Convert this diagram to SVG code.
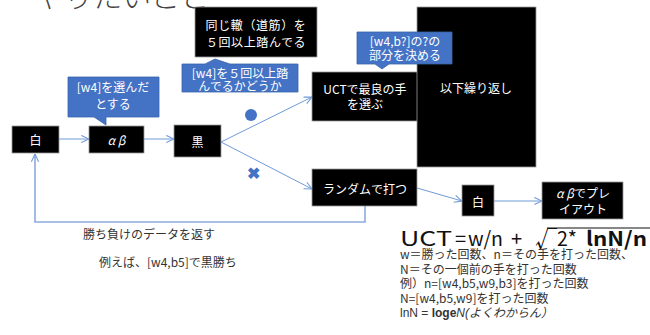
<svg xmlns="http://www.w3.org/2000/svg" width="650" height="335" viewBox="0 0 650 335">
<defs>
<style>
text{font-family:"Noto Sans CJK JP","Liberation Sans",sans-serif;}
.box{fill:#000;stroke:#999;stroke-width:0.8;}
.bt{fill:#fff;font-size:12px;text-anchor:middle;dominant-baseline:central;}
.call{fill:#4472c4;stroke:#3a64ad;stroke-width:0.8;}
.ct{fill:#fff;font-size:12px;text-anchor:middle;dominant-baseline:central;}
.con{fill:none;stroke:#6f9ad8;stroke-width:1;}
.loop{fill:none;stroke:#8eaadb;stroke-width:1.6;}
.note{fill:#333;font-size:12px;}
.fx{fill:#111;font-size:20px;}
</style>
<marker id="ah" viewBox="0 0 10 10" refX="9.5" refY="5" markerWidth="9" markerHeight="9" markerUnits="userSpaceOnUse" orient="auto">
<path d="M1,1 L9.5,5 L1,9" fill="none" stroke="#6f9ad8" stroke-width="1.2"/>
</marker>
</defs>
<rect width="650" height="335" fill="#fff"/>

<text x="35" y="8" font-size="29" fill="#444" font-weight="300">やりたいこと</text>

<g id="connectors">
<line class="con" x1="59" y1="139" x2="89" y2="139" marker-end="url(#ah)"/>
<line class="con" x1="144" y1="139" x2="174" y2="139" marker-end="url(#ah)"/>
<line class="con" x1="221" y1="142" x2="312" y2="97" marker-end="url(#ah)"/>
<line class="con" x1="221" y1="142" x2="312" y2="189" marker-end="url(#ah)"/>
<line class="con" x1="417" y1="188" x2="462" y2="201" marker-end="url(#ah)"/>
<line class="con" x1="494" y1="201" x2="542" y2="201" marker-end="url(#ah)"/>
<polyline class="loop" points="365,206 365,222 35,222 35,154" marker-end="url(#ah)"/>
</g>

<g id="n-same">
<rect class="box" x="195" y="7" width="122" height="50"/>
<text class="bt" x="256" y="24" letter-spacing="0.6">同じ轍（道筋）を</text>
<text class="bt" x="256" y="41" letter-spacing="0.6">５回以上踏んでる</text>
</g>

<g id="c-check">
<path class="call" d="M182,64 H205 L215,59 L230,64 H298 V92 H182 Z"/>
<text class="ct" x="240" y="72">[w4]を５回以上踏</text>
<text class="ct" x="240" y="85">んでるかどうか</text>
</g>

<g id="c-select">
<path class="call" d="M68,77 H159 V117 H106 V125 L94,117 H68 Z"/>
<text class="ct" x="113" y="86">[w4]を選んだ</text>
<text class="ct" x="113" y="103">とする</text>
</g>

<g id="n-white1">
<rect class="box" x="12" y="126" width="47" height="27"/>
<text class="bt" x="35.5" y="139.5">白</text>
</g>

<g id="n-ab">
<rect class="box" x="89" y="126" width="55" height="27"/>
<text class="bt" x="116.5" y="139.5" font-style="italic">α β</text>
</g>

<g id="n-black">
<rect class="box" x="174" y="125" width="47" height="32"/>
<text class="bt" x="197.5" y="141">黒</text>
</g>

<g id="marks">
<circle cx="251" cy="115" r="6" fill="#4472c4"/>
<text x="253" y="172" font-size="16" font-weight="bold" fill="#4472c4" text-anchor="middle" dominant-baseline="central" font-family="'DejaVu Sans',sans-serif">✖</text>
</g>

<g id="n-uct">
<rect class="box" x="312" y="72" width="110" height="49"/>
<text class="bt" x="365" y="88">UCTで最良の手</text>
<text class="bt" x="365" y="103">を選ぶ</text>
</g>

<g id="n-repeat">
<rect class="box" x="417" y="7" width="119" height="160"/>
<text class="bt" x="476" y="87">以下繰り返し</text>
</g>

<g id="c-decide">
<path class="call" d="M357,32 H452 V64 H389 L382,69 L375,64 H357 Z"/>
<text class="ct" x="405" y="40">[w4,b?]の?の</text>
<text class="ct" x="405" y="54">部分を決める</text>
</g>

<g id="n-random">
<rect class="box" x="312" y="169" width="105" height="37"/>
<text class="bt" x="365" y="188">ランダムで打つ</text>
</g>

<g id="n-white2">
<rect class="box" x="462" y="185" width="32" height="31"/>
<text class="bt" x="478" y="201">白</text>
</g>

<g id="n-playout">
<rect class="box" x="542" y="182" width="81" height="37"/>
<text class="bt" x="583" y="192"><tspan font-style="italic">α β</tspan>でプレ</text>
<text class="bt" x="583" y="208">イアウト</text>
</g>

<g id="notes">
<text class="note" x="83" y="239">勝ち負けのデータを返す</text>
<text class="note" x="99" y="267">例えば、[w4,b5]で黒勝ち</text>
</g>

<g id="formula">
<line x1="547" y1="228" x2="650" y2="228" stroke="#111" stroke-width="1.2"/>
<text class="fx" x="400" y="246" textLength="52" lengthAdjust="spacingAndGlyphs">UCT</text>
<text class="fx" x="455" y="246">=</text>
<text class="fx" x="468" y="246" textLength="35" lengthAdjust="spacingAndGlyphs">w/n</text>
<text class="fx" x="511" y="246">+</text>
<text x="535" y="247" font-size="22" fill="#111" font-family="'DejaVu Sans',sans-serif">√</text>
<text class="fx" x="557" y="246" textLength="20" lengthAdjust="spacingAndGlyphs">2*</text>
<text class="fx" x="586" y="246" style="font-weight:bold" textLength="61" lengthAdjust="spacingAndGlyphs">lnN/n</text>
<text class="note" x="400" y="259">w＝勝った回数、n＝その手を打った回数、</text>
<text class="note" x="400" y="274">N＝その一個前の手を打った回数</text>
<text class="note" x="400" y="288">例）n=[w4,b5,w9,b3]を打った回数</text>
<text class="note" x="400" y="303">N=[w4,b5,w9]を打った回数</text>
<text class="note" x="400" y="317"><tspan font-family="'Liberation Sans',sans-serif">lnN = </tspan><tspan font-family="'Liberation Sans',sans-serif" font-weight="bold">loge</tspan><tspan font-family="'Liberation Sans',sans-serif" font-style="italic">N(</tspan><tspan font-style="italic">よくわからん）</tspan></text>
</g>
</svg>
